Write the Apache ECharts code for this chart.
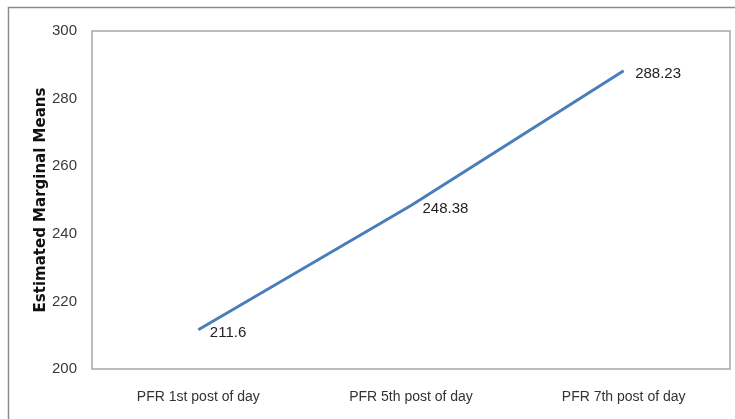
<!DOCTYPE html>
<html>
<head>
<meta charset="utf-8">
<style>
  html, body { margin: 0; padding: 0; background: #fff; }
  #chart { width: 735px; height: 419px; }
</style>
<script src="https://cdn.jsdelivr.net/npm/echarts@6/dist/echarts.min.js"></script>
</head>
<body>
<div id="chart"></div>
<script>
// Estimated marginal means of PFR across the day
const categories = ['PFR 1st post of day', 'PFR 5th post of day', 'PFR 7th post of day'];
const meanValues = [211.6, 248.38, 288.23];
const yTicks = { min: 200, max: 300, interval: 20 };

const FONT = '"Liberation Sans", "Open Sans", sans-serif';

const chart = echarts.init(document.getElementById('chart'), null, { renderer: 'canvas' });

chart.setOption({
  backgroundColor: '#ffffff',
  animation: false,
  graphic: [{
    type: 'rect',
    silent: true,
    shape: { x: 8.5, y: 7.5, width: 740, height: 430 },
    style: { fill: 'none', stroke: '#8c8c8c', lineWidth: 1.5 }
  }],
  grid: {
    left: 92, right: 5, top: 31, bottom: 50,
    show: true,
    borderColor: '#a6a6a6',
    borderWidth: 1.5,
    backgroundColor: 'transparent'
  },
  xAxis: {
    type: 'category',
    data: categories,
    boundaryGap: true,
    axisLine: { show: false },
    axisTick: { show: false },
    axisLabel: {
      margin: 21,
      color: '#333',
      fontFamily: FONT,
      fontSize: 14
    },
    splitLine: { show: false }
  },
  yAxis: {
    type: 'value',
    min: yTicks.min,
    max: yTicks.max,
    interval: yTicks.interval,
    name: 'Estimated Marginal Means',
    nameLocation: 'middle',
    nameGap: 43,
    nameMoveOverlap: false,
    nameTextStyle: {
      color: '#111',
      fontFamily: '"DejaVu Sans", sans-serif',
      fontSize: 15,
      fontWeight: 'bold'
    },
    axisLine: { show: false },
    axisTick: { show: false },
    splitLine: { show: false },
    axisLabel: {
      margin: 15,
      color: '#3a3a3a',
      fontFamily: FONT,
      fontSize: 15
    }
  },
  series: [{
    type: 'line',
    data: meanValues,
    symbol: 'circle',
    symbolSize: 1,
    showSymbol: true,
    itemStyle: { color: 'rgba(0,0,0,0)' },
    lineStyle: { color: '#4a7ebb', width: 3 },
    label: {
      show: true,
      position: 'right',
      distance: 11,
      offset: [0, 3],
      color: '#222',
      fontFamily: FONT,
      fontSize: 15,
      formatter: p => String(p.value)
    }
  }]
});
</script>
</body>
</html>
